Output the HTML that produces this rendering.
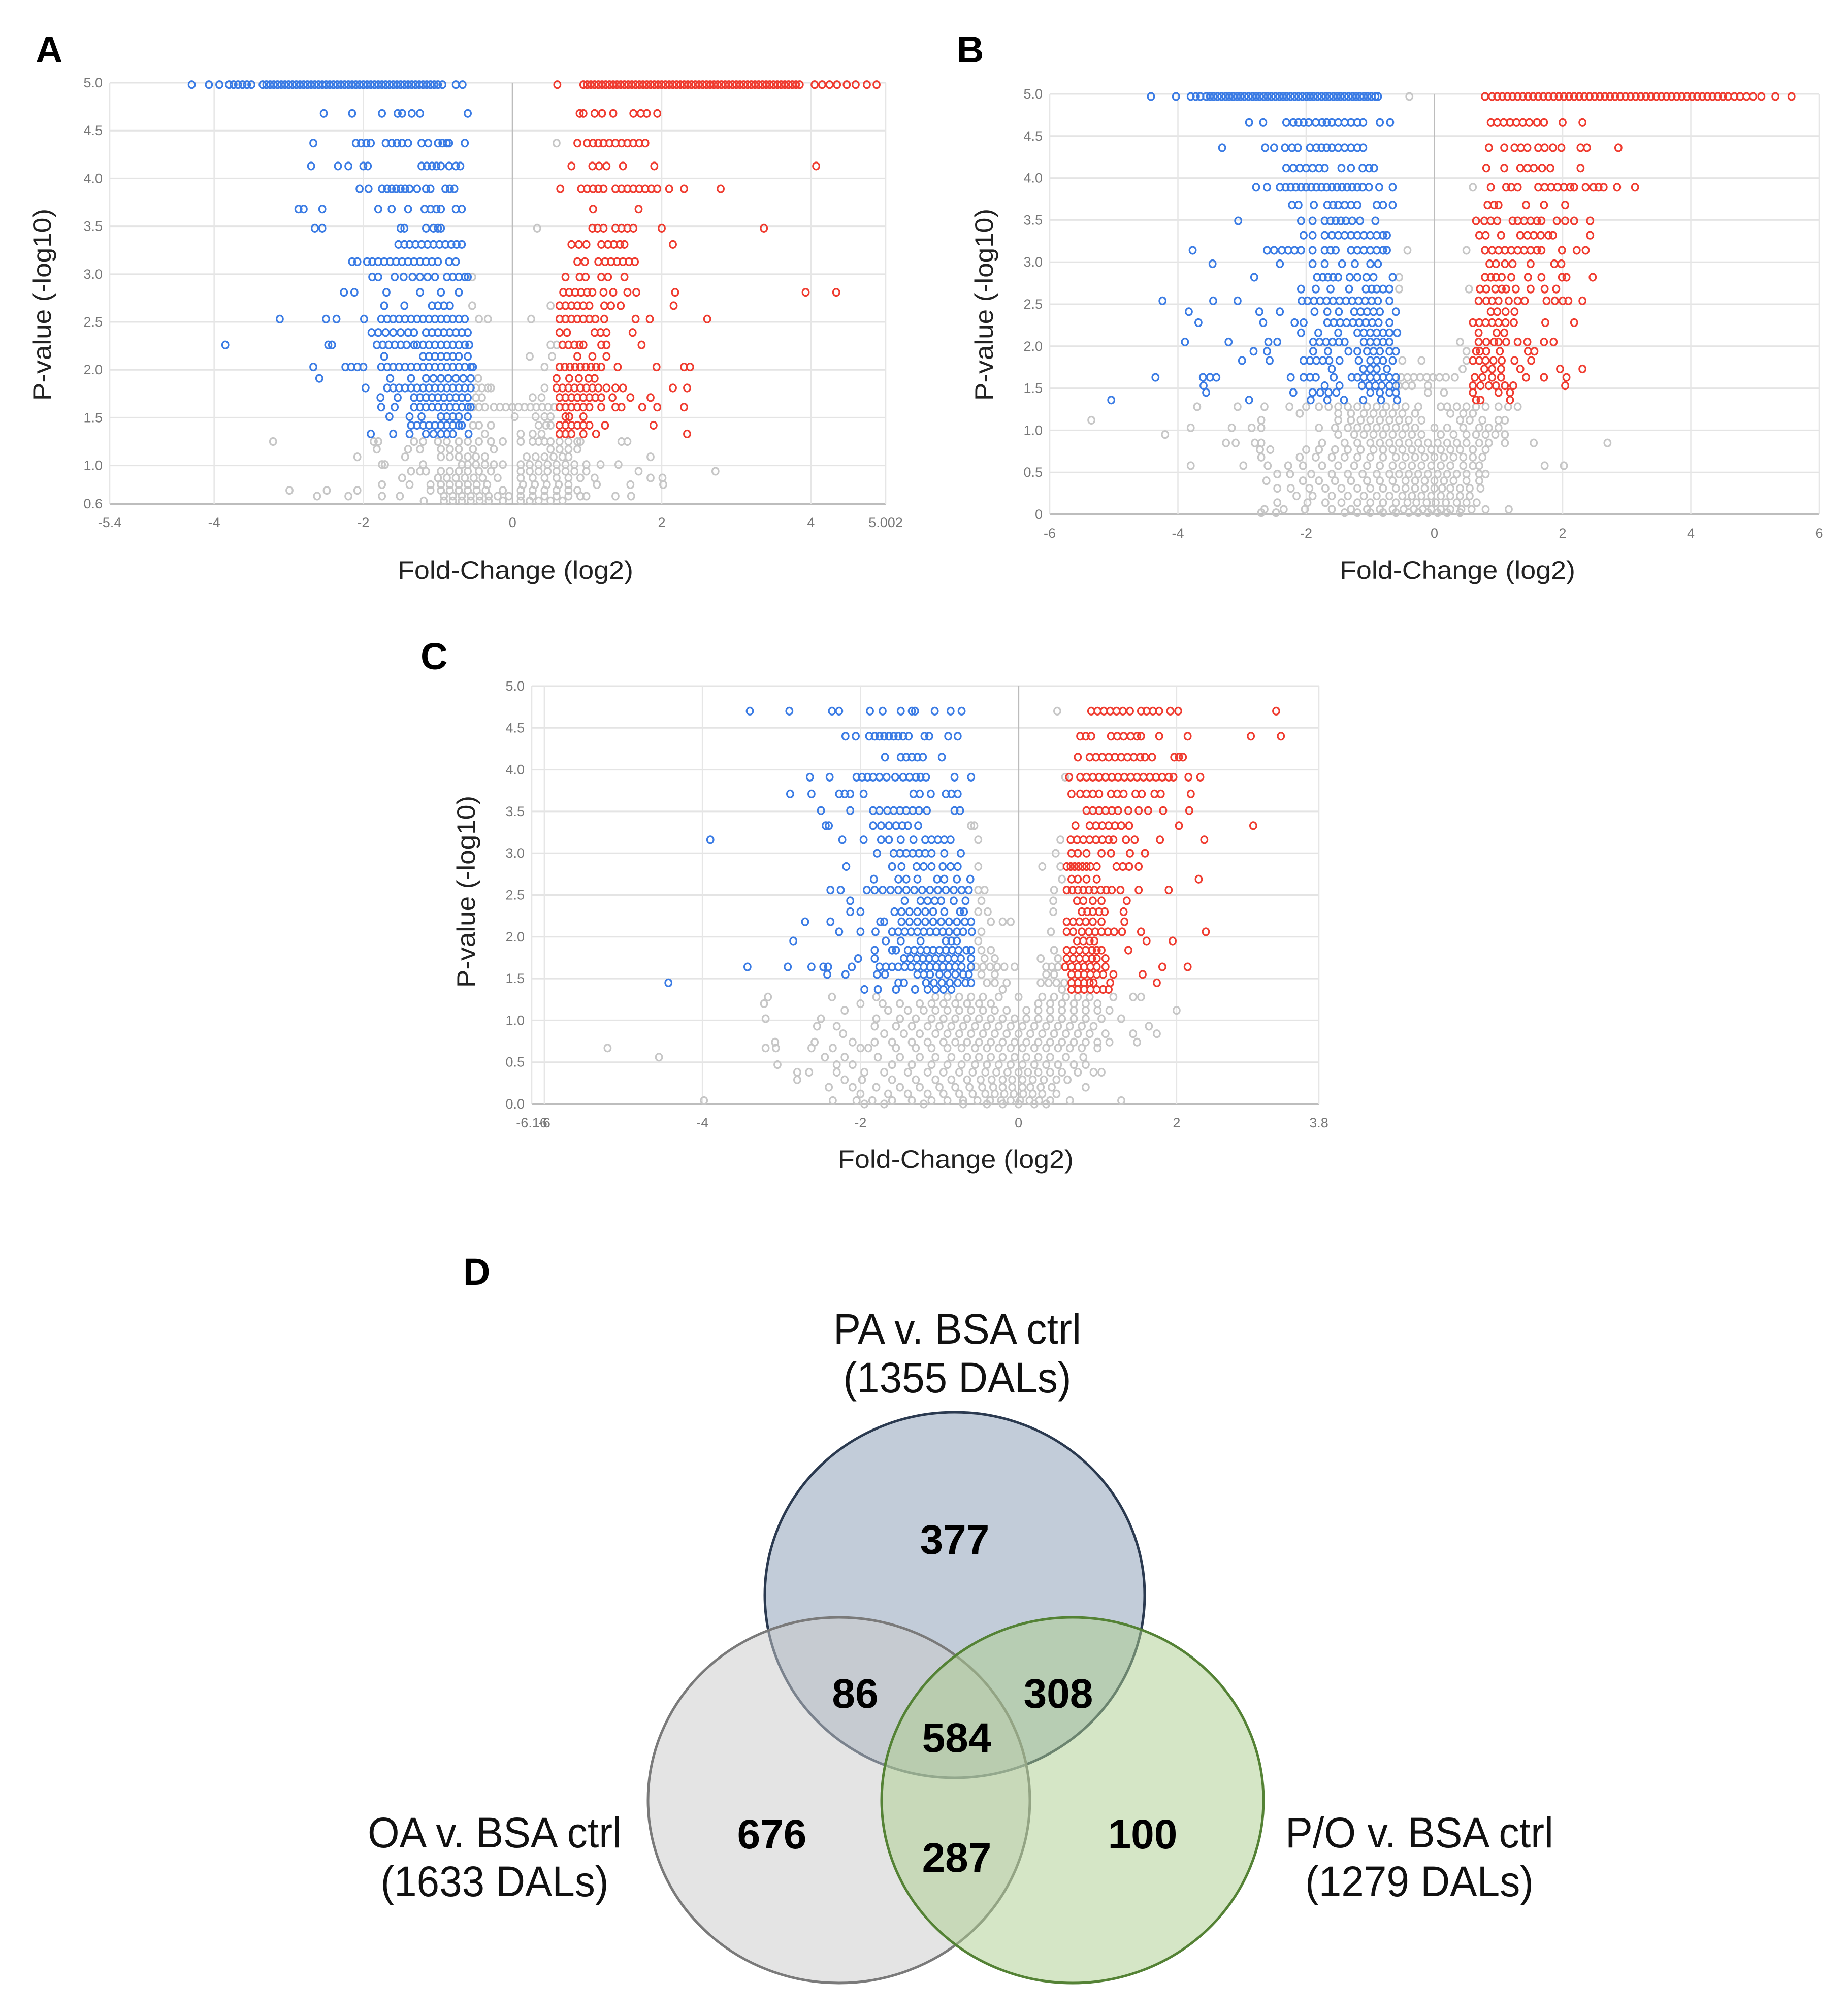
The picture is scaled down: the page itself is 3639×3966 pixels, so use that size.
<!DOCTYPE html>
<html><head><meta charset="utf-8">
<style>
html,body{margin:0;padding:0;background:#fff;}
svg{display:block;}
.tick{font-family:"Liberation Sans Narrow","Liberation Sans",sans-serif;font-size:27px;fill:#777;}
.atitle{font-family:"Liberation Sans Narrow","Liberation Sans",sans-serif;font-size:50px;fill:#222;}
.plabel{font-family:"Liberation Sans",sans-serif;font-weight:bold;font-size:74px;fill:#000;}
.vlabel{font-family:"Liberation Sans Narrow","Liberation Sans",sans-serif;font-size:84px;fill:#111;}
.vnum{font-family:"Liberation Sans Narrow","Liberation Sans",sans-serif;font-weight:bold;font-size:82px;fill:#000;}
</style></head>
<body>
<svg id="fig" width="3639" height="3966" viewBox="0 0 3639 3966" xmlns="http://www.w3.org/2000/svg">
<rect width="3639" height="3966" fill="#fff"/>
<g id="pA"></g>
<g id="pB"></g>
<g id="pC"></g>
<g id="pD">
  <text class="plabel" x="912" y="2530">D</text>
  <ellipse cx="1880" cy="3141" rx="374" ry="360" fill="rgb(133,153,179)" fill-opacity="0.5" stroke="#2b3a50" stroke-width="5"/>
  <ellipse cx="1652" cy="3545" rx="376" ry="360" fill="rgb(201,201,201)" fill-opacity="0.5" stroke="#7a7a7a" stroke-width="5"/>
  <ellipse cx="2112" cy="3545" rx="376" ry="360" fill="rgb(171,205,141)" fill-opacity="0.5" stroke="#548235" stroke-width="5"/>
  <text class="vlabel" x="1885" y="2646" text-anchor="middle" textLength="488" lengthAdjust="spacingAndGlyphs">PA v. BSA ctrl</text>
  <text class="vlabel" x="1885" y="2742" text-anchor="middle" textLength="449" lengthAdjust="spacingAndGlyphs">(1355 DALs)</text>
  <text class="vlabel" x="974" y="3638" text-anchor="middle" textLength="500" lengthAdjust="spacingAndGlyphs">OA v. BSA ctrl</text>
  <text class="vlabel" x="974" y="3734" text-anchor="middle" textLength="449" lengthAdjust="spacingAndGlyphs">(1633 DALs)</text>
  <text class="vlabel" x="2795" y="3638" text-anchor="middle" textLength="528" lengthAdjust="spacingAndGlyphs">P/O v. BSA ctrl</text>
  <text class="vlabel" x="2795" y="3734" text-anchor="middle" textLength="450" lengthAdjust="spacingAndGlyphs">(1279 DALs)</text>
  <text class="vnum" x="1880" y="3060" text-anchor="middle">377</text>
  <text class="vnum" x="1684" y="3363" text-anchor="middle">86</text>
  <text class="vnum" x="2084" y="3363" text-anchor="middle">308</text>
  <text class="vnum" x="1884" y="3450" text-anchor="middle">584</text>
  <text class="vnum" x="1520" y="3640" text-anchor="middle">676</text>
  <text class="vnum" x="1884" y="3686" text-anchor="middle">287</text>
  <text class="vnum" x="2250" y="3640" text-anchor="middle">100</text>
</g>
</svg>
<script>
// ===== Panel A data: rows [y, [x...]] =====
const aYTicks = [5.0,4.5,4.0,3.5,3.0,2.5,2.0,1.5,1.0,0.6];
const aXTicks = [-5.4,-4,-2,0,2,4,5.002];
const aBlue = [
 [4.98,[-4.3,-4.07,-3.93,-3.8,-3.74,-3.68,-3.62,-3.56,-3.5,-3.35,-3.3,-3.25,-3.2,-3.15,-3.1,-3.05,-3.0,-2.95,-2.9,-2.85,-2.8,-2.75,-2.7,-2.65,-2.6,-2.55,-2.5,-2.45,-2.4,-2.35,-2.3,-2.25,-2.2,-2.15,-2.1,-2.05,-2.0,-1.95,-1.9,-1.85,-1.8,-1.75,-1.7,-1.65,-1.6,-1.55,-1.5,-1.45,-1.4,-1.35,-1.3,-1.25,-1.2,-1.15,-1.1,-1.05,-1.0,-0.94,-0.76,-0.67]],
 [4.68,[-2.53,-2.15,-1.75,-1.54,-1.48,-1.35,-1.24,-0.6]],
 [4.37,[-2.67,-2.1,-2.03,-1.96,-1.9,-1.7,-1.62,-1.55,-1.48,-1.4,-1.22,-1.13,-1.0,-0.94,-0.88,-0.85,-0.64]],
 [4.13,[-2.7,-2.34,-2.2,-2.0,-1.94,-1.22,-1.15,-1.08,-1.02,-0.96,-0.85,-0.76,-0.7]],
 [3.89,[-2.05,-1.93,-1.75,-1.68,-1.62,-1.56,-1.5,-1.44,-1.38,-1.28,-1.16,-1.1,-0.9,-0.84,-0.78]],
 [3.68,[-2.87,-2.8,-2.55,-1.8,-1.62,-1.4,-1.18,-1.1,-1.02,-0.96,-0.76,-0.68]],
 [3.48,[-2.65,-2.55,-1.5,-1.45,-1.16,-1.06,-1.0,-0.96]],
 [3.31,[-1.53,-1.45,-1.38,-1.3,-1.22,-1.14,-1.06,-0.98,-0.9,-0.82,-0.75,-0.68]],
 [3.13,[-2.15,-2.08,-1.95,-1.88,-1.8,-1.72,-1.64,-1.56,-1.48,-1.4,-1.32,-1.24,-1.16,-1.08,-1.0,-0.85,-0.76]],
 [2.97,[-1.88,-1.8,-1.58,-1.46,-1.34,-1.24,-1.14,-1.04,-0.88,-0.8,-0.72,-0.64,-0.6]],
 [2.81,[-2.26,-2.12,-1.69,-1.24,-0.96,-0.72]],
 [2.67,[-1.72,-1.45,-1.08,-1.0,-0.92,-0.84]],
 [2.53,[-3.12,-2.5,-2.36,-1.99,-1.76,-1.68,-1.6,-1.52,-1.44,-1.36,-1.28,-1.2,-1.12,-1.04,-0.96,-0.88,-0.8,-0.72,-0.64]],
 [2.39,[-1.89,-1.8,-1.7,-1.6,-1.5,-1.4,-1.32,-1.16,-1.08,-1.0,-0.92,-0.84,-0.76,-0.68,-0.6]],
 [2.26,[-3.85,-2.47,-2.42,-1.82,-1.74,-1.66,-1.58,-1.5,-1.42,-1.32,-1.28,-1.2,-1.12,-1.04,-0.96,-0.88,-0.8,-0.72,-0.64,-0.58]],
 [2.14,[-1.72,-1.2,-1.12,-1.04,-0.96,-0.88,-0.8,-0.72,-0.6]],
 [2.03,[-2.67,-2.24,-2.16,-2.08,-2.0,-1.76,-1.68,-1.6,-1.52,-1.44,-1.36,-1.28,-1.2,-1.12,-1.04,-0.96,-0.88,-0.8,-0.72,-0.64,-0.56,-0.53]],
 [1.91,[-2.59,-1.64,-1.36,-1.16,-1.06,-0.96,-0.86,-0.76,-0.66,-0.56]],
 [1.81,[-1.97,-1.68,-1.6,-1.52,-1.44,-1.36,-1.28,-1.2,-1.12,-1.04,-0.96,-0.88,-0.8,-0.72,-0.64,-0.56]],
 [1.71,[-1.77,-1.54,-1.32,-1.24,-1.16,-1.08,-1.0,-0.92,-0.84,-0.76,-0.68,-0.6]],
 [1.61,[-1.76,-1.58,-1.32,-1.24,-1.16,-1.08,-1.0,-0.92,-0.84,-0.76,-0.68,-0.6,-0.56]],
 [1.51,[-1.65,-1.38,-1.22,-0.96,-0.88,-0.8,-0.72,-0.6]],
 [1.42,[-1.36,-1.28,-1.2,-1.12,-1.04,-0.96,-0.88,-0.8,-0.72,-0.68]],
 [1.33,[-1.9,-1.6,-1.38,-1.16,-1.06,-0.96,-0.88,-0.8,-0.59]]
];
const aRed = [
 [4.98,[0.6,0.95,1.0,1.05,1.1,1.15,1.2,1.25,1.3,1.35,1.4,1.45,1.5,1.55,1.6,1.65,1.7,1.75,1.8,1.85,1.9,1.95,2.0,2.05,2.1,2.15,2.2,2.25,2.3,2.35,2.4,2.45,2.5,2.55,2.6,2.65,2.7,2.75,2.8,2.85,2.9,2.95,3.0,3.05,3.1,3.15,3.2,3.25,3.3,3.35,3.4,3.45,3.5,3.55,3.6,3.65,3.7,3.75,3.8,3.85,4.05,4.15,4.25,4.35,4.48,4.6,4.75,4.88]],
 [4.68,[0.9,0.95,1.1,1.2,1.35,1.62,1.72,1.8,1.94]],
 [4.37,[0.87,1.0,1.08,1.15,1.22,1.3,1.38,1.46,1.54,1.62,1.7,1.78]],
 [4.13,[0.79,1.07,1.16,1.26,1.48,1.9,4.07]],
 [3.89,[0.64,0.92,1.0,1.08,1.15,1.22,1.38,1.46,1.54,1.62,1.7,1.78,1.86,1.94,2.1,2.3,2.79]],
 [3.68,[1.08,1.69]],
 [3.48,[1.07,1.14,1.22,1.38,1.46,1.54,1.62,2.0,3.37]],
 [3.31,[0.79,0.89,0.99,1.19,1.28,1.36,1.44,1.5,2.15]],
 [3.13,[0.87,0.97,1.15,1.24,1.32,1.4,1.48,1.56,1.64]],
 [2.97,[0.71,0.9,0.98,1.19,1.28,1.5]],
 [2.81,[0.68,0.76,0.84,0.92,1.0,1.07,1.22,1.35,1.54,1.66,2.18,3.93,4.34]],
 [2.67,[0.63,0.71,0.79,0.87,0.95,1.03,1.23,1.32,1.45,2.16]],
 [2.53,[0.63,0.71,0.79,0.87,0.95,1.03,1.11,1.23,1.65,1.84,2.61]],
 [2.39,[0.63,0.73,1.1,1.18,1.26,1.61]],
 [2.26,[0.67,0.75,0.83,0.9,0.95,1.19,1.26,1.73]],
 [2.14,[0.87,1.07,1.26]],
 [2.03,[0.63,0.7,0.77,0.84,0.91,0.98,1.05,1.12,1.19,1.41,1.93,2.3,2.38]],
 [1.91,[0.59,0.76,0.89,1.02,1.1]],
 [1.81,[0.59,0.67,0.75,0.83,0.91,0.99,1.07,1.15,1.26,1.38,1.48,2.15,2.34]],
 [1.71,[0.63,0.71,0.79,0.87,0.95,1.03,1.11,1.19,1.34,1.58,1.85]],
 [1.61,[0.63,0.71,0.79,0.87,0.95,1.03,1.19,1.38,1.46,1.74,1.94,2.3]],
 [1.51,[0.71,0.76,0.95]],
 [1.42,[0.63,0.71,0.79,0.87,0.95,1.03,1.24,1.89]],
 [1.33,[0.63,0.71,0.79,0.95,1.12,2.34]]
];
const aGrey = [
 [3.48,[0.33]],[4.37,[0.59]],[2.97,[-0.54]],[2.67,[-0.54,0.51]],[2.53,[-0.45,-0.33,0.25]],[2.26,[0.51,0.59]],[2.14,[0.23,0.53]],[2.03,[0.43]],[1.91,[-0.46]],
 [1.81,[-0.49,-0.41,-0.33,-0.29,0.43]],[1.71,[-0.49,-0.41,0.27,0.39]],
 [1.61,[-0.53,-0.45,-0.37,-0.25,-0.17,-0.09,0.0,0.08,0.16,0.24,0.32,0.4,0.48,0.56]],
 [1.51,[0.03,0.31,0.43,0.51]],[1.42,[-0.53,-0.45,-0.29,0.35,0.45,0.51]],[1.33,[-0.37,0.11,0.27,0.39]],
 [1.25,[-3.21,-1.86,-1.8,-1.32,-1.2,-1.0,-0.88,-0.72,-0.6,-0.45,-0.29,-0.13,0.11,0.27,0.35,0.43,0.51,0.63,0.75,0.87,0.91,1.46,1.54]],
 [1.17,[-1.82,-1.4,-1.24,-0.96,-0.84,-0.72,-0.53,-0.25,0.51,0.63,0.75,0.87]],
 [1.09,[-2.08,-1.44,-0.96,-0.84,-0.72,-0.6,-0.49,-0.37,0.19,0.31,0.43,0.55,0.67,0.75,1.85]],
 [1.01,[-1.75,-1.71,-1.2,-0.68,-0.6,-0.49,-0.37,-0.25,-0.13,0.11,0.23,0.35,0.47,0.59,0.71,0.83,0.99,1.18,1.42]],
 [0.94,[-1.36,-1.24,-1.16,-0.96,-0.84,-0.72,-0.6,-0.45,-0.29,0.11,0.23,0.35,0.47,0.59,0.71,0.83,0.99,1.69,2.72]],
 [0.87,[-1.48,-1.0,-0.88,-0.76,-0.64,-0.52,-0.4,-0.2,0.11,0.27,0.43,0.59,0.75,0.91,1.1,1.85,2.01]],
 [0.8,[-1.75,-1.38,-1.1,-0.96,-0.84,-0.72,-0.6,-0.48,-0.34,0.14,0.3,0.46,0.62,0.75,1.13,1.58,2.02]],
 [0.74,[-2.99,-2.49,-2.08,-1.1,-0.96,-0.84,-0.72,-0.6,-0.48,-0.36,-0.13,0.11,0.27,0.43,0.59,0.75,0.87]],
 [0.68,[-2.62,-2.2,-1.75,-1.51,-0.92,-0.8,-0.68,-0.56,-0.44,-0.32,-0.2,-0.05,0.11,0.27,0.43,0.59,0.75,0.91,0.99,1.38,1.59]],
 [0.63,[-1.19,-0.92,-0.8,-0.68,-0.56,-0.44,-0.32,-0.13,0.11,0.23,0.35,0.51,0.67]]
];

// ===== Panel B data =====
const bYTicks = [5.0,4.5,4.0,3.5,3.0,2.5,2.0,1.5,1.0,0.5,0];
const bXTicks = [-6,-4,-2,0,2,4,6];
const bBlue = [
 [4.97,[-4.42,-4.03,-3.8,-3.72,-3.65,-3.56,-3.5,-3.44,-3.38,-3.32,-3.26,-3.2,-3.14,-3.08,-3.02,-2.96,-2.9,-2.84,-2.78,-2.72,-2.66,-2.6,-2.54,-2.48,-2.42,-2.36,-2.3,-2.24,-2.18,-2.12,-2.06,-2.0,-1.94,-1.88,-1.82,-1.76,-1.7,-1.64,-1.58,-1.52,-1.46,-1.4,-1.34,-1.28,-1.22,-1.16,-1.1,-1.04,-0.98,-0.92,-0.88]],
 [4.66,[-2.89,-2.67,-2.31,-2.2,-2.12,-2.04,-1.96,-1.85,-1.75,-1.68,-1.6,-1.5,-1.4,-1.3,-1.2,-1.11,-0.85,-0.69]],
 [4.36,[-3.31,-2.64,-2.5,-2.33,-2.22,-2.13,-1.94,-1.84,-1.76,-1.68,-1.6,-1.5,-1.4,-1.3,-1.2,-1.11]],
 [4.12,[-2.31,-2.2,-2.1,-2.0,-1.9,-1.8,-1.71,-1.45,-1.3,-1.12,-1.02,-0.94]],
 [3.89,[-2.78,-2.61,-2.41,-2.32,-2.24,-2.16,-2.08,-2.0,-1.92,-1.84,-1.76,-1.68,-1.6,-1.52,-1.44,-1.36,-1.28,-1.2,-1.12,-1.02,-0.86,-0.65]],
 [3.68,[-2.22,-2.12,-1.88,-1.67,-1.58,-1.5,-1.4,-1.3,-1.2,-0.9,-0.8,-0.65]],
 [3.49,[-3.06,-2.08,-1.9,-1.71,-1.62,-1.54,-1.46,-1.38,-1.28,-1.16,-0.92]],
 [3.32,[-2.04,-1.9,-1.71,-1.6,-1.5,-1.4,-1.3,-1.2,-1.1,-1.0,-0.9,-0.8,-0.74]],
 [3.14,[-3.77,-2.61,-2.5,-2.38,-2.28,-2.18,-2.08,-1.9,-1.71,-1.62,-1.54,-1.3,-1.2,-1.1,-1.0,-0.9,-0.8,-0.74]],
 [2.98,[-3.46,-2.41,-1.9,-1.71,-1.44,-1.24,-1.0,-0.88]],
 [2.82,[-2.81,-1.83,-1.74,-1.66,-1.58,-1.5,-1.32,-1.2,-1.06,-0.95,-0.65]],
 [2.68,[-2.08,-1.85,-1.62,-1.33,-1.07,-0.98,-0.9,-0.8,-0.7]],
 [2.54,[-4.24,-3.45,-3.07,-2.07,-1.98,-1.88,-1.78,-1.68,-1.58,-1.48,-1.38,-1.28,-1.18,-1.08,-0.98,-0.88,-0.7]],
 [2.41,[-3.83,-2.73,-2.41,-1.87,-1.67,-1.49,-1.25,-1.15,-1.05,-0.95,-0.85,-0.6]],
 [2.28,[-3.68,-2.67,-2.18,-2.04,-1.67,-1.57,-1.47,-1.37,-1.27,-1.17,-1.07,-0.97,-0.87,-0.7]],
 [2.16,[-2.08,-1.81,-1.5,-1.2,-1.1,-1.0,-0.9,-0.8,-0.7,-0.58]],
 [2.05,[-3.89,-3.21,-2.59,-2.45,-1.89,-1.79,-1.69,-1.59,-1.49,-1.4,-1.1,-1.0,-0.9,-0.8,-0.7]],
 [1.94,[-2.82,-2.61,-1.89,-1.66,-1.34,-1.2,-1.05,-0.95,-0.85,-0.7,-0.6]],
 [1.83,[-3.0,-2.57,-2.04,-1.94,-1.84,-1.74,-1.64,-1.48,-1.18,-1.0,-0.9,-0.8,-0.65]],
 [1.73,[-1.6,-1.11,-1.0,-0.9,-0.74]],
 [1.63,[-4.35,-3.61,-3.5,-3.4,-2.24,-2.04,-1.94,-1.85,-1.57,-1.29,-1.2,-1.1,-1.0,-0.9,-0.8,-0.7,-0.6]],
 [1.53,[-3.6,-1.71,-1.48,-1.13,-1.02,-0.92,-0.82,-0.7,-0.6]],
 [1.45,[-3.56,-2.2,-1.9,-1.78,-1.65,-1.53,-1.0,-0.85,-0.7,-0.6]],
 [1.36,[-5.04,-2.89,-1.93,-1.67,-1.41,-1.11,-0.83,-0.58]]
];
const bRed = [
 [4.97,[0.79,0.9,0.98,1.06,1.14,1.22,1.3,1.38,1.46,1.54,1.62,1.7,1.78,1.86,1.94,2.02,2.1,2.18,2.26,2.34,2.42,2.5,2.58,2.66,2.74,2.82,2.9,2.98,3.06,3.14,3.22,3.3,3.38,3.46,3.54,3.62,3.7,3.78,3.86,3.94,4.02,4.1,4.18,4.26,4.34,4.42,4.5,4.58,4.68,4.77,4.87,4.97,5.1,5.32,5.57]],
 [4.66,[0.88,0.98,1.08,1.18,1.28,1.38,1.48,1.6,1.71,2.0,2.31]],
 [4.36,[0.85,1.09,1.25,1.35,1.45,1.62,1.72,1.85,1.98,2.28,2.38,2.87]],
 [4.12,[0.81,1.09,1.34,1.45,1.55,1.68,1.81,2.28]],
 [3.89,[0.88,1.12,1.2,1.3,1.62,1.72,1.82,1.92,2.02,2.12,2.18,2.36,2.48,2.56,2.64,2.85,3.13]],
 [3.68,[0.83,0.93,1.0,1.43,1.71,2.04]],
 [3.49,[0.65,0.78,0.88,0.98,1.22,1.3,1.4,1.5,1.6,1.67,1.91,2.04,2.18,2.43]],
 [3.32,[0.7,0.8,1.04,1.34,1.45,1.55,1.66,1.78,1.85,2.43]],
 [3.14,[0.79,0.9,1.0,1.1,1.2,1.3,1.4,1.5,1.6,1.67,1.99,2.22,2.36]],
 [2.98,[0.86,0.96,1.1,1.22,1.5,1.87,1.98]],
 [2.82,[0.79,0.88,0.96,1.05,1.2,1.46,1.67,1.99,2.06,2.47]],
 [2.68,[0.71,0.81,0.95,1.05,1.12,1.27,1.5,1.72,1.9]],
 [2.54,[0.69,0.81,0.9,1.0,1.16,1.3,1.41,1.75,1.88,2.0,2.09,2.31]],
 [2.41,[0.88,0.98,1.11,1.25]],
 [2.28,[0.6,0.7,0.8,0.9,1.0,1.11,1.24,1.73,2.18]],
 [2.16,[0.69,0.97,1.09]],
 [2.05,[0.69,0.81,0.93,1.0,1.12,1.3,1.45,1.71,1.86]],
 [1.94,[0.65,0.71,0.81,1.02,1.46,1.56]],
 [1.83,[0.6,0.7,0.8,0.92,1.05,1.25,1.51]],
 [1.73,[0.78,0.9,1.04,1.34,1.96,2.31]],
 [1.63,[0.63,0.75,0.9,1.04,1.43,1.71,2.06]],
 [1.53,[0.6,0.72,0.85,0.96,1.1,1.23,2.04]],
 [1.45,[0.6,1.0,1.18]],
 [1.36,[0.65,0.72,1.18]]
];
const bGrey = [
 [4.97,[-0.39]],[3.89,[0.6]],[3.14,[-0.42,0.5]],[2.82,[-0.55]],[2.68,[-0.55,0.54]],[2.05,[0.4]],[1.94,[0.5]],[1.83,[-0.5,-0.2,0.5]],[1.73,[0.44]],
 [1.63,[-0.52,-0.42,-0.32,-0.22,-0.12,-0.02,0.08,0.18,0.32]],[1.53,[-0.56,-0.45,-0.35,-0.1]],[1.45,[-0.1,0.15]],
 [1.28,[-3.7,-3.07,-2.65,-2.26,-2.0,-1.8,-1.65,-1.5,-1.35,-1.2,-1.05,-0.9,-0.75,-0.6,-0.45,-0.25,0.1,0.2,0.35,0.5,0.65,0.8,1.0,1.15,1.3]],
 [1.2,[-2.1,-1.5,-1.3,-1.1,-0.95,-0.8,-0.65,-0.5,-0.3,0.25,0.45,0.6]],
 [1.12,[-5.35,-2.7,-1.5,-1.3,-1.15,-1.0,-0.85,-0.7,-0.55,-0.4,-0.2,0.4,0.55,0.75,1.0,1.1]],
 [1.03,[-3.8,-3.16,-2.85,-2.7,-1.8,-1.55,-1.35,-1.2,-1.05,-0.9,-0.75,-0.6,-0.45,-0.3,0.0,0.2,0.45,0.7,0.85,1.0]],
 [0.95,[-4.2,-1.5,-1.25,-1.1,-0.95,-0.8,-0.65,-0.5,-0.35,-0.2,0.1,0.3,0.5,0.65,0.8,0.95,1.1]],
 [0.85,[-2.7,-2.8,-3.25,-3.1,-1.75,-1.4,-1.2,-1.0,-0.85,-0.7,-0.55,-0.4,-0.25,-0.1,0.05,0.2,0.35,0.5,0.7,0.85,1.1,1.55,2.7]],
 [0.77,[-2.72,-2.56,-2.0,-1.8,-1.55,-1.35,-1.15,-0.95,-0.8,-0.65,-0.5,-0.35,-0.2,-0.05,0.1,0.25,0.4,0.6,0.8]],
 [0.68,[-2.7,-2.1,-1.85,-1.6,-1.4,-1.2,-1.0,-0.8,-0.6,-0.45,-0.3,-0.15,0.0,0.15,0.3,0.45,0.6,0.75]],
 [0.58,[-3.8,-2.98,-2.6,-2.28,-2.05,-1.75,-1.5,-1.25,-1.05,-0.85,-0.65,-0.5,-0.35,-0.2,-0.05,0.1,0.25,0.45,0.6,0.7,1.72,2.02]],
 [0.48,[-2.45,-2.25,-1.92,-1.6,-1.35,-1.12,-0.9,-0.7,-0.55,-0.4,-0.25,-0.1,0.05,0.2,0.35,0.5,0.7,0.8]],
 [0.4,[-2.62,-2.05,-1.8,-1.55,-1.3,-1.05,-0.85,-0.65,-0.45,-0.3,-0.15,0.0,0.15,0.3,0.5,0.7]],
 [0.31,[-2.45,-2.24,-1.95,-1.7,-1.45,-1.2,-1.0,-0.8,-0.6,-0.45,-0.3,-0.15,0.0,0.12,0.25,0.4,0.55,0.72]],
 [0.22,[-2.15,-1.9,-1.6,-1.35,-1.1,-0.9,-0.7,-0.5,-0.35,-0.2,-0.05,0.1,0.25,0.4,0.55]],
 [0.14,[-2.45,-1.98,-1.7,-1.45,-1.2,-1.0,-0.8,-0.6,-0.42,-0.28,-0.12,0.02,0.18,0.35,0.5,0.66]],
 [0.06,[-2.65,-2.35,-2.02,-1.6,-1.3,-1.05,-0.85,-0.65,-0.48,-0.32,-0.18,-0.05,0.1,0.25,0.42,0.58,0.8,1.16]],
 [0.02,[-2.7,-2.47,-1.4,-1.2,-1.0,-0.8,-0.6,-0.4,-0.25,-0.1,0.05,0.2,0.4]]
];

// ===== Panel C data =====
const cYTicks = [5.0,4.5,4.0,3.5,3.0,2.5,2.0,1.5,1.0,0.5,0.0];
const cXTicks = [-6.16,-6,-4,-2,0,2,3.8];
const cXTickText = ["-6.16","-6","-4","-2","0","2","3.8"];
const cBlue = [
 [4.70,[-3.4,-2.9,-2.36,-2.27,-1.88,-1.72,-1.49,-1.35,-1.31,-1.06,-0.86,-0.72]],
 [4.40,[-2.19,-2.06,-1.89,-1.82,-1.76,-1.7,-1.64,-1.58,-1.52,-1.46,-1.39,-1.19,-1.13,-0.89,-0.77]],
 [4.15,[-1.69,-1.49,-1.42,-1.35,-1.28,-1.21,-0.97]],
 [3.91,[-2.64,-2.39,-2.05,-1.98,-1.91,-1.84,-1.76,-1.67,-1.56,-1.46,-1.38,-1.3,-1.24,-1.17,-0.81,-0.6]],
 [3.71,[-2.89,-2.62,-2.27,-2.2,-2.13,-1.96,-1.33,-1.25,-1.11,-0.92,-0.85,-0.77]],
 [3.51,[-2.5,-2.13,-1.84,-1.76,-1.66,-1.58,-1.5,-1.42,-1.34,-1.26,-1.16,-0.81,-0.74]],
 [3.33,[-2.44,-2.4,-1.84,-1.74,-1.64,-1.55,-1.47,-1.4,-1.27]],
 [3.16,[-3.9,-2.23,-1.96,-1.74,-1.64,-1.49,-1.33,-1.18,-1.1,-1.02,-0.94,-0.86]],
 [3.0,[-1.79,-1.58,-1.5,-1.42,-1.34,-1.26,-1.18,-1.1,-0.94,-0.73]],
 [2.84,[-2.18,-1.6,-1.48,-1.29,-1.2,-1.1,-0.96,-0.86,-0.77]],
 [2.69,[-1.83,-1.52,-1.42,-1.28,-1.03,-0.94,-0.78,-0.61]],
 [2.56,[-2.38,-2.25,-1.92,-1.82,-1.72,-1.62,-1.52,-1.42,-1.32,-1.22,-1.12,-1.02,-0.92,-0.82,-0.72,-0.63]],
 [2.43,[-2.13,-1.44,-1.24,-1.15,-1.06,-0.98,-0.82,-0.67]],
 [2.30,[-2.13,-2.0,-1.57,-1.48,-1.38,-1.28,-1.18,-1.08,-0.94,-0.74,-0.69]],
 [2.18,[-2.7,-2.38,-1.75,-1.7,-1.48,-1.38,-1.28,-1.18,-1.08,-0.98,-0.88,-0.78,-0.68,-0.6]],
 [2.06,[-2.27,-2.0,-1.81,-1.6,-1.52,-1.44,-1.36,-1.28,-1.2,-1.12,-1.04,-0.96,-0.88,-0.78,-0.7,-0.59]],
 [1.95,[-2.85,-1.68,-1.49,-1.24,-0.92,-0.85,-0.78]],
 [1.84,[-1.82,-1.6,-1.55,-1.4,-1.32,-1.24,-1.16,-1.08,-1.0,-0.92,-0.84,-0.76,-0.66,-0.6]],
 [1.74,[-2.03,-1.82,-1.45,-1.37,-1.29,-1.21,-1.13,-1.05,-0.97,-0.89,-0.81,-0.73,-0.6]],
 [1.64,[-3.43,-2.92,-2.62,-2.47,-2.41,-2.11,-1.76,-1.68,-1.6,-1.52,-1.44,-1.36,-1.28,-1.2,-1.12,-1.04,-0.96,-0.88,-0.8,-0.72,-0.6]],
 [1.55,[-2.42,-2.19,-1.79,-1.69,-1.28,-1.2,-1.12,-1.0,-0.9,-0.8,-0.7,-0.63]],
 [1.45,[-4.43,-1.52,-1.45,-1.17,-1.07,-0.97,-0.87,-0.77,-0.67,-0.6]],
 [1.37,[-1.95,-1.78,-1.55,-1.31,-1.15,-1.05,-0.95,-0.85]]
];
const cRed = [
 [4.70,[0.92,1.0,1.08,1.16,1.24,1.32,1.41,1.55,1.62,1.7,1.78,1.92,2.02,3.26]],
 [4.40,[0.78,0.85,0.92,1.17,1.25,1.33,1.42,1.5,1.55,1.78,2.14,2.94,3.32]],
 [4.15,[0.75,0.9,0.98,1.06,1.14,1.22,1.3,1.38,1.46,1.54,1.6,1.69,1.97,2.03,2.08]],
 [3.91,[0.64,0.78,0.86,0.94,1.02,1.1,1.18,1.26,1.34,1.42,1.5,1.58,1.66,1.74,1.82,1.9,1.96,2.15,2.3]],
 [3.71,[0.67,0.78,0.86,0.94,1.02,1.17,1.25,1.33,1.48,1.56,1.72,1.8,2.18]],
 [3.51,[0.86,0.94,1.02,1.1,1.18,1.26,1.39,1.52,1.64,1.83,2.16]],
 [3.33,[0.72,0.9,0.98,1.06,1.14,1.22,1.3,1.4,2.03,2.97]],
 [3.16,[0.66,0.74,0.82,0.9,0.98,1.06,1.14,1.2,1.36,1.47,1.79,2.35]],
 [3.0,[0.67,0.75,0.86,1.05,1.17,1.41,1.6]],
 [2.84,[0.61,0.66,0.71,0.76,0.81,0.86,0.91,0.99,1.24,1.32,1.4,1.52]],
 [2.69,[0.67,0.75,0.86,0.99,2.28]],
 [2.56,[0.61,0.68,0.75,0.82,0.89,0.96,1.04,1.11,1.18,1.29,1.52,1.9]],
 [2.43,[0.74,0.82,0.94,1.05,1.37]],
 [2.30,[0.8,0.87,0.94,1.02,1.09,1.33]],
 [2.18,[0.61,0.69,0.77,0.85,0.94,1.05,1.34]],
 [2.06,[0.61,0.69,0.8,0.89,0.97,1.05,1.13,1.21,1.31,1.55,2.37]],
 [1.95,[0.74,0.82,0.9,0.96,1.62,1.95]],
 [1.84,[0.61,0.69,0.77,0.85,0.93,0.99,1.05,1.39]],
 [1.74,[0.61,0.69,0.77,0.85,0.93,0.99,1.1]],
 [1.64,[0.59,0.67,0.75,0.83,0.91,0.99,1.1,1.82,2.14]],
 [1.55,[0.67,0.75,0.83,0.91,0.99,1.07,1.2,1.57]],
 [1.45,[0.67,0.75,0.83,0.9,0.95,1.16,1.75]],
 [1.37,[0.67,0.75,0.83,0.91,0.99,1.07,1.14]]
];
const cGrey = [
 [4.70,[0.49]],[3.91,[0.59]],[3.33,[-0.6,-0.56]],[3.16,[-0.51,0.53]],[3.0,[0.47]],[2.84,[-0.51,0.3,0.53]],[2.69,[0.55]],[2.56,[-0.51,-0.43,0.45]],
 [2.43,[-0.47,0.44]],[2.30,[-0.51,-0.39,0.44]],[2.18,[-0.35,-0.2,-0.1]],[2.06,[-0.47,0.41]],[1.95,[-0.51]],[1.84,[-0.47,-0.35,0.45]],
 [1.74,[-0.43,-0.3,0.28,0.5]],[1.64,[-0.54,-0.45,-0.36,-0.27,-0.18,-0.05,0.35,0.42,0.5]],[1.55,[-0.47,-0.3,0.35,0.45]],
 [1.45,[-0.4,-0.3,-0.15,0.28,0.38,0.48,0.58]],[1.37,[-0.2,0.55]],
 [1.28,[-3.17,-2.36,-1.8,-1.05,-0.9,-0.75,-0.6,-0.45,-0.25,0.0,0.3,0.45,0.6,0.75,0.9,1.2,1.45,1.55]],
 [1.2,[-3.22,-2.0,-1.72,-1.5,-1.25,-1.1,-0.95,-0.8,-0.65,-0.5,-0.35,0.25,0.4,0.55,0.7,0.85,1.0]],
 [1.12,[-2.2,-1.65,-1.4,-1.2,-1.05,-0.9,-0.75,-0.6,-0.45,-0.3,-0.15,0.1,0.25,0.4,0.55,0.7,0.85,1.0,1.15,2.0]],
 [1.02,[-3.2,-2.5,-1.8,-1.5,-1.3,-1.1,-0.95,-0.8,-0.65,-0.5,-0.35,-0.2,-0.05,0.1,0.25,0.4,0.55,0.7,0.85,1.05,1.3]],
 [0.93,[-2.55,-2.3,-1.82,-1.55,-1.35,-1.15,-1.0,-0.85,-0.7,-0.55,-0.4,-0.25,-0.1,0.05,0.2,0.35,0.5,0.65,0.8,0.95,1.65]],
 [0.84,[-2.22,-1.7,-1.45,-1.25,-1.05,-0.9,-0.75,-0.6,-0.45,-0.3,-0.15,0.0,0.15,0.3,0.45,0.6,0.75,0.9,1.1,1.45,1.75]],
 [0.74,[-3.08,-2.58,-2.1,-1.82,-1.6,-1.35,-1.15,-0.95,-0.8,-0.65,-0.5,-0.35,-0.2,-0.05,0.1,0.25,0.4,0.55,0.7,0.85,1.0,1.15,1.5]],
 [0.67,[-5.2,-3.2,-3.07,-2.62,-2.35,-2.0,-1.9,-1.55,-1.3,-1.1,-0.9,-0.72,-0.55,-0.4,-0.25,-0.1,0.05,0.2,0.35,0.5,0.65,0.8,1.0]],
 [0.56,[-4.55,-2.45,-2.2,-1.78,-1.5,-1.25,-1.05,-0.85,-0.65,-0.5,-0.35,-0.2,-0.05,0.1,0.25,0.4,0.6,0.82]],
 [0.47,[-3.05,-2.3,-2.1,-1.6,-1.35,-1.1,-0.9,-0.72,-0.55,-0.4,-0.25,-0.1,0.05,0.2,0.35,0.5,0.7,0.85]],
 [0.38,[-2.8,-2.65,-2.3,-1.95,-1.7,-1.4,-1.15,-0.95,-0.75,-0.58,-0.42,-0.28,-0.14,0.0,0.12,0.25,0.4,0.55,0.75,0.95,1.05]],
 [0.29,[-2.8,-2.2,-1.98,-1.6,-1.3,-1.05,-0.85,-0.65,-0.48,-0.34,-0.2,-0.08,0.05,0.18,0.32,0.48,0.62]],
 [0.2,[-2.4,-2.1,-1.8,-1.5,-1.25,-1.0,-0.8,-0.62,-0.46,-0.32,-0.2,-0.08,0.05,0.15,0.28,0.42,0.85]],
 [0.12,[-2.0,-1.65,-1.4,-1.15,-0.95,-0.75,-0.58,-0.42,-0.3,-0.18,-0.06,0.06,0.18,0.3,0.48]],
 [0.04,[-3.98,-2.35,-2.05,-1.85,-1.6,-1.35,-1.1,-0.9,-0.7,-0.52,-0.36,-0.22,-0.1,0.02,0.14,0.26,0.4,0.65,1.3]],
 [0.0,[-1.95,-1.7,-1.2,-0.7,-0.4,-0.2,0.0,0.2,0.35]]
];

const NS = "http://www.w3.org/2000/svg";
function mk(parent, tag, attrs) {
  const e = document.createElementNS(NS, tag);
  for (const k in attrs) e.setAttribute(k, attrs[k]);
  parent.appendChild(e);
  return e;
}
const COL = {blue:"#3a7be4", red:"#ef3b2f", grey:"#c6c6c6"};

function drawPanel(g, L, blue, red, grey, yTicks, xTicks, xTickText) {
  const sx = v => L.left + (v - L.xmin) / (L.xmax - L.xmin) * (L.right - L.left);
  const sy = v => L.bottom - (v - L.ymin) / (L.ymax - L.ymin) * (L.bottom - L.top);
  const pl = mk(g, "text", {x: L.lx, y: L.ly, class: "plabel"});
  pl.textContent = L.letter;
  
  
  yTicks.forEach(t => {
    const ln = mk(g, "line", {x1: L.left, x2: L.right, y1: sy(t), y2: sy(t), stroke: t === L.ymin ? "#bdbdbd" : "#e4e4e4", "stroke-width": t === L.ymin ? 4 : 3});
    
    
    const tx = mk(g, "text", {x: L.left - 14, y: sy(t) + 9, "text-anchor": "end", class: "tick"});
    tx.textContent = L.yfmt(t);
    
    
  });
  xTicks.forEach((t, i) => {
    const ln = mk(g, "line", {x1: sx(t), x2: sx(t), y1: L.top, y2: L.bottom, stroke: t === 0 ? "#bcbcbc" : "#e6e6e6", "stroke-width": t === 0 ? 3 : 2.5});
    
    
    const tx = mk(g, "text", {x: sx(t), y: L.bottom + 46, "text-anchor": "middle", class: "tick"});
    tx.textContent = xTickText ? xTickText[i] : String(t);
    
    
  });
  const series = [[grey, COL.grey, "grey"], [blue, COL.blue, "blue"], [red, COL.red, "red"]];
  series.forEach(([rows, c, nm]) => {
    const sg = mk(g, "g", {fill: "none", stroke: c, "stroke-width": 3.2});
    
    
    rows.forEach(([y, xs]) => {
      xs.forEach(x => {
        const e = mk(sg, "ellipse", {cx: sx(x), cy: sy(y), rx: 6.3, ry: 7});
        
        
      });
    });
  });
  const xt = mk(g, "text", {x: L.xtx, y: L.xty, "text-anchor": "middle", class: "atitle", textLength: 464, lengthAdjust: "spacingAndGlyphs"});
  xt.textContent = "Fold-Change (log2)";
  
  
  const yt = mk(g, "text", {x: 0, y: 0, "text-anchor": "middle", class: "atitle", textLength: 378, lengthAdjust: "spacingAndGlyphs", transform: "translate(" + L.ytx + "," + L.yty + ") rotate(-90)"});
  yt.textContent = "P-value (-log10)";
  
  
}

drawPanel(document.getElementById("pA"),
  {left:216,right:1744,top:163,bottom:992,xmin:-5.4,xmax:5.002,ymin:0.6,ymax:5.0,letter:"A",lx:70,ly:123,xtx:1015,xty:1140,ytx:100,yty:600,yfmt:t=>t.toFixed(1)},
  aBlue, aRed, aGrey, aYTicks, aXTicks, null);
drawPanel(document.getElementById("pB"),
  {left:2067,right:3582,top:185,bottom:1013,xmin:-6,xmax:6,ymin:0,ymax:5.0,letter:"B",lx:1884,ly:123,xtx:2870,xty:1140,ytx:1955,yty:600,yfmt:t=>t===0?"0":t.toFixed(1)},
  bBlue, bRed, bGrey, bYTicks, bXTicks, null);
drawPanel(document.getElementById("pC"),
  {left:1047,right:2597,top:1351,bottom:2174,xmin:-6.16,xmax:3.8,ymin:0,ymax:5.0,letter:"C",lx:828,ly:1318,xtx:1882,xty:2300,ytx:935,yty:1756,yfmt:t=>t.toFixed(1)},
  cBlue, cRed, cGrey, cYTicks, cXTicks, cXTickText);
</script>
</body></html>
